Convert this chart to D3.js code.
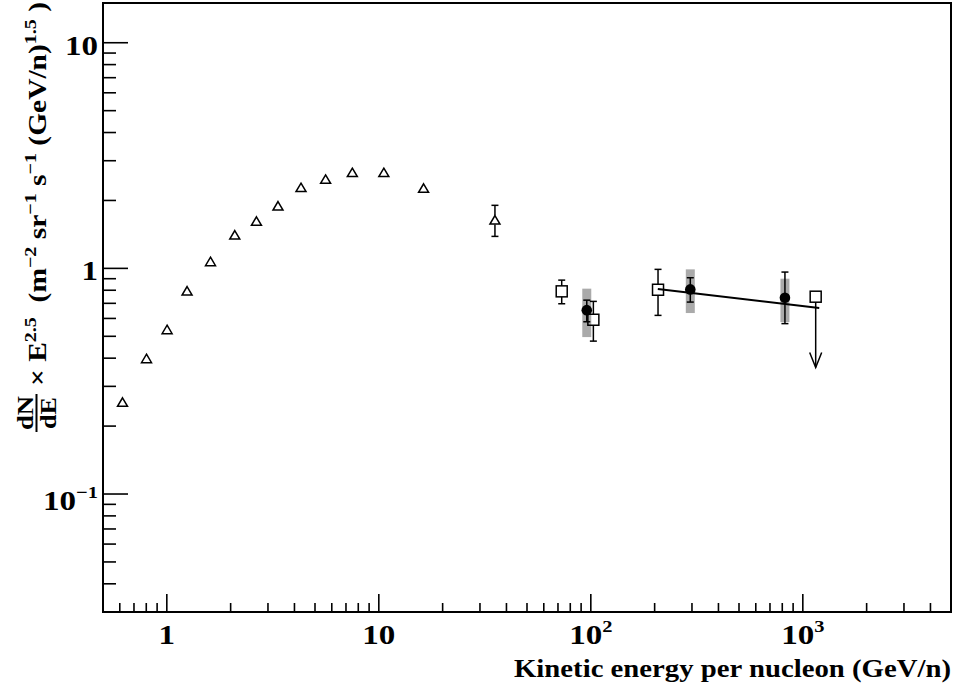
<!DOCTYPE html>
<html>
<head>
<meta charset="utf-8">
<script src="https://cdn.jsdelivr.net/npm/d3@7"></script>
<style>
    body { margin: 0; background: #fff; }
    text { font-family: "Liberation Serif", "Times New Roman", serif; font-weight: bold; fill: #000; }
</style>
</head>
<body>
<div id="chart"></div>
<script>
// open triangles (low energy)
const triE = [0.618, 0.802, 1.003, 1.246, 1.607, 2.092, 2.647, 3.345, 4.295, 5.61, 7.50, 10.56, 16.26, 35.3];
const triF = [0.255, 0.398, 0.535, 0.793, 1.071, 1.405, 1.616, 1.889, 2.28, 2.48, 2.657, 2.657, 2.263, 1.637];
const triLo = [null, null, null, null, null, null, null, null, null, null, null, null, null, 1.386];
const triHi = [null, null, null, null, null, null, null, null, null, null, null, null, null, 1.903];

// open squares
const sqE = [72.9, 102.8, 207.5];
const sqF = [0.791, 0.592, 0.804];
const sqLo = [0.697, 0.476, 0.619];
const sqHi = [0.887, 0.714, 0.99];

// upper limit (open square + arrow)
const limE = [1150];
const limF = [0.749];
const limTo = [0.364];

// filled circles, stat + sys
const circE = [95.7, 294.6, 823.5];
const circF = [0.653, 0.807, 0.741];
const circLo = [0.580, 0.709, 0.569];
const circHi = [0.723, 0.909, 0.963];
const sysLo = [0.496, 0.634, 0.578];
const sysHi = [0.813, 0.99, 0.90];

// power law fit
const fitE = [207, 1195];
const fitF = [0.81, 0.667];

const xMajor = [1, 10, 100, 1000];
const xLabels = [["1", null], ["10", null], ["10", "2"], ["10", "3"]];
const xMinor = [0.6, 0.7, 0.8, 0.9, 2, 3, 4, 5, 6, 7, 8, 9, 20, 30, 40, 50, 60, 70, 80, 90,
    200, 300, 400, 500, 600, 700, 800, 900, 2000, 3000, 4000];
const yMajor = [0.1, 1, 10];
const yLabels = [["10", "\u22121"], ["1", null], ["10", null]];
const yMinor = [0.04, 0.05, 0.06, 0.07, 0.08, 0.09, 0.2, 0.3, 0.4, 0.5, 0.6, 0.7, 0.8, 0.9,
    2, 3, 4, 5, 6, 7, 8, 9];

const width = 956,
    height = 685,
    margin = {top: 3, right: 5, bottom: 73, left: 103};

const x = d3.scaleLog().domain([0.5, 5000]).range([margin.left, width - margin.right]);
const y = d3.scaleLog().domain([0.03, 15]).range([height - margin.bottom, margin.top]);

const svg = d3.select("#chart")
    .append("svg")
    .attr("width", width)
    .attr("height", height);

// ticks (ROOT style, pointing inwards)
const x0 = margin.left, y0 = height - margin.bottom;
const tickG = svg.append("g").attr("stroke", "#000").attr("stroke-width", 1.6);
tickG.selectAll(".xmaj").data(xMajor).join("line")
    .attr("x1", (d) => x(d)).attr("x2", (d) => x(d))
    .attr("y1", y0).attr("y2", y0 - 18);
tickG.selectAll(".xmin").data(xMinor).join("line")
    .attr("x1", (d) => x(d)).attr("x2", (d) => x(d))
    .attr("y1", y0).attr("y2", y0 - 9);
tickG.selectAll(".ymaj").data(yMajor).join("line")
    .attr("y1", (d) => y(d)).attr("y2", (d) => y(d))
    .attr("x1", x0).attr("x2", x0 + 25);
tickG.selectAll(".ymin").data(yMinor).join("line")
    .attr("y1", (d) => y(d)).attr("y2", (d) => y(d))
    .attr("x1", x0).attr("x2", x0 + 13);

// frame
svg.append("rect")
    .attr("x", margin.left)
    .attr("y", margin.top)
    .attr("width", width - margin.left - margin.right)
    .attr("height", height - margin.top - margin.bottom)
    .attr("fill", "none")
    .attr("stroke", "#000")
    .attr("stroke-width", 2);

function label(sel, base, sup, size) {
    sel.append("tspan").text(base);
    if (sup) {
        sel.append("tspan")
            .attr("font-size", size * 0.62)
            .attr("dy", -size * 0.42)
            .text(sup);
    }
}

// tick labels (reference glyphs are a bit wider than Times)
const labSize = 28, stretch = 1.18;
xMajor.forEach((v, i) => {
    const t = svg.append("text")
        .attr("transform", `translate(${x(v)},644) scale(${stretch},1)`)
        .attr("text-anchor", "middle")
        .attr("font-size", labSize);
    label(t, xLabels[i][0], xLabels[i][1], labSize);
});
yMajor.forEach((v, i) => {
    const t = svg.append("text")
        .attr("transform", `translate(98,${y(v) + (yLabels[i][1] ? 16 : 12)}) scale(${stretch},1)`)
        .attr("text-anchor", "end")
        .attr("font-size", labSize);
    label(t, yLabels[i][0], yLabels[i][1], labSize);
});

// axis titles
svg.append("text")
    .attr("x", width - margin.right)
    .attr("y", 677)
    .attr("text-anchor", "end")
    .attr("font-size", 25)
    .attr("textLength", 437)
    .attr("lengthAdjust", "spacingAndGlyphs")
    .text("Kinetic energy per nucleon (GeV/n)");

const yt = svg.append("g").attr("transform", "rotate(-90)");
// fraction dN/dE
yt.append("text").attr("x", -413).attr("y", 33).attr("text-anchor", "middle")
    .attr("font-size", 24).attr("textLength", 34).attr("lengthAdjust", "spacingAndGlyphs").text("dN");
yt.append("line").attr("x1", -432).attr("x2", -394).attr("y1", 36.5).attr("y2", 36.5)
    .attr("stroke", "#000").attr("stroke-width", 2);
yt.append("text").attr("x", -413).attr("y", 56).attr("text-anchor", "middle")
    .attr("font-size", 24).attr("textLength", 32).attr("lengthAdjust", "spacingAndGlyphs").text("dE");

const ytitle = yt.append("text").attr("x", -386).attr("y", 46).attr("font-size", 25)
    .attr("textLength", 384).attr("lengthAdjust", "spacingAndGlyphs")
    .attr("style", "white-space: pre");
const titleParts = [["\u00d7 E", null], ["2.5", "sup"], ["  (m", null], ["\u22122", "sup"], [" sr", null],
    ["\u22121", "sup"], [" s", null], ["\u22121", "sup"], [" (GeV/n)", null], ["1.5", "sup"], [" )", null]];
let up = false;
titleParts.forEach(([s, kind]) => {
    const ts = ytitle.append("tspan").text(s);
    if (kind === "sup" && !up) { ts.attr("dy", -10).attr("font-size", 17); up = true; }
    else if (kind !== "sup" && up) { ts.attr("dy", 10); up = false; }
});

// systematic bands
svg.append("g").selectAll("rect").data(circE).join("rect")
    .attr("x", (d) => x(d) - 4.5)
    .attr("width", 9)
    .attr("y", (d, i) => y(sysHi[i]))
    .attr("height", (d, i) => y(sysLo[i]) - y(sysHi[i]))
    .attr("fill", "#aaaaaa");

// fit line
svg.append("line")
    .attr("x1", x(fitE[0])).attr("y1", y(fitF[0]))
    .attr("x2", x(fitE[1])).attr("y2", y(fitF[1]))
    .attr("stroke", "#000").attr("stroke-width", 2);

// error bars with gap at the marker
function errorBars(E, F, lo, hi, gap) {
    const g = svg.append("g").attr("stroke", "#000").attr("stroke-width", 1.5);
    E.forEach((e, i) => {
        if (lo[i] == null) return;
        const cx = x(e), cy = y(F[i]);
        g.append("line").attr("x1", cx).attr("x2", cx).attr("y1", y(hi[i])).attr("y2", cy - gap);
        g.append("line").attr("x1", cx).attr("x2", cx).attr("y1", cy + gap).attr("y2", y(lo[i]));
        g.append("line").attr("x1", cx - 3.5).attr("x2", cx + 3.5).attr("y1", y(hi[i])).attr("y2", y(hi[i]));
        g.append("line").attr("x1", cx - 3.5).attr("x2", cx + 3.5).attr("y1", y(lo[i])).attr("y2", y(lo[i]));
    });
}
errorBars(triE, triF, triLo, triHi, 4.5);
errorBars(sqE, sqF, sqLo, sqHi, 5.5);
errorBars(circE, circF, circLo, circHi, 0);

// upper limit arrow
const arrowG = svg.append("g").attr("stroke", "#000").attr("stroke-width", 1.5).attr("fill", "none");
limE.forEach((e, i) => {
    const cx = x(e), top = y(limF[i]) + 5.5, bot = y(limTo[i]);
    arrowG.append("line").attr("x1", cx).attr("x2", cx).attr("y1", top).attr("y2", bot);
    arrowG.append("path").attr("d", `M${cx - 6},${bot - 15}L${cx},${bot}L${cx + 6},${bot - 15}`);
});

// markers
svg.append("g").selectAll("path").data(triE).join("path")
    .attr("d", (d, i) => {
        const cx = x(d), cy = y(triF[i]);
        return `M${cx},${cy - 4.5}L${cx + 5},${cy + 4}L${cx - 5},${cy + 4}Z`;
    })
    .attr("fill", "none").attr("stroke", "#000").attr("stroke-width", 1.5);

svg.append("g").selectAll("rect").data(sqE.concat(limE)).join("rect")
    .attr("x", (d) => x(d) - 5.5)
    .attr("y", (d, i) => y(sqF.concat(limF)[i]) - 5.5)
    .attr("width", 11).attr("height", 11)
    .attr("fill", "none").attr("stroke", "#000").attr("stroke-width", 1.5);

svg.append("g").selectAll("circle").data(circE).join("circle")
    .attr("cx", (d) => x(d))
    .attr("cy", (d, i) => y(circF[i]))
    .attr("r", 5.3)
    .attr("fill", "#000");
</script>
</body>
</html>
